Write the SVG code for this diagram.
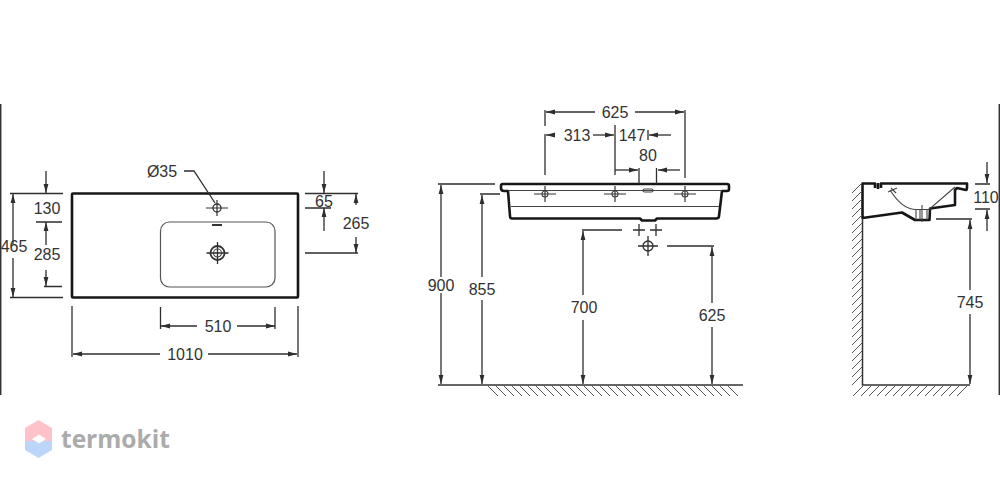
<svg xmlns="http://www.w3.org/2000/svg" width="1000" height="484" viewBox="0 0 1000 484">
<style>
.d{fill:none;stroke:#2e2e2e;stroke-width:1.3}
.a{fill:none;stroke:#2e2e2e;stroke-width:1.3;marker-end:url(#ah)}
.o{fill:none;stroke:#161616;stroke-width:2.6;stroke-linejoin:round}
.t{fill:none;stroke:#444;stroke-width:1.1}
.h{fill:none;stroke:#555;stroke-width:1}
text{font-family:"Liberation Sans",Arial,sans-serif;font-size:16px;fill:#333;text-anchor:middle}
</style>
<defs>
<marker id="ah" markerUnits="userSpaceOnUse" markerWidth="10" markerHeight="7" refX="9" refY="3.500" orient="auto"><path d="M0 1.100L9 3.500L0 5.900Z" fill="#2e2e2e"/></marker>
<path id="tap" d="M-11 0H11M0 -8V8" fill="none" stroke="#333" stroke-width="1.2"/>
</defs>
<path d="M.7 104V395M999.3 104V395" fill="none" stroke="#333" stroke-width="1.5"/>

<g id="plan-view">
<rect x="72" y="193.500" width="226" height="104" rx="1" class="o"/>
<rect x="160.500" y="222" width="114.500" height="65" rx="9" fill="none" stroke="#555" stroke-width="1.2"/>
<g transform="translate(217 208)"><use href="#tap"/><circle r="4" class="d"/></g>
<path d="M212 225H222" stroke="#333" stroke-width="2" fill="none"/>
<g transform="translate(217.500 253)"><path d="M-11 0H11M0 -11V11" class="d"/><circle r="7" fill="none" stroke="#333" stroke-width="1.8"/><circle r="4" class="t"/></g>
</g>

<g id="front-view">
<path d="M503 184H727Q729 184 729 186V189Q729 191 727 191H722L719 216Q719 218.500 716 218.500H657L655 220.500H642L640 218.500H512Q510 218.500 510 216L508 191H504Q501 191 501 188V186Q501 184 503 184Z" class="o"/>
<path d="M508 190.500H722M511 206.500H719" class="t"/>
<rect x="643" y="189" width="10" height="3" rx="1.500" class="t"/>
<g transform="translate(545 194)"><use href="#tap"/><circle r="3" class="t"/></g>
<g transform="translate(615 194)"><use href="#tap"/><circle r="3" class="t"/></g>
<g transform="translate(685 194)"><use href="#tap"/><circle r="3" class="t"/></g>
<path d="M633 230H645M639 224V236M650 230H662M656 224V236M638 246H658M648 236V256" class="d"/>
<circle cx="648" cy="246" r="5" class="d"/>
<path d="M438 385H743" fill="none" stroke="#333" stroke-width="1.5"/>
<path class="h" d="M488 386l10 10m-2-10l10 10m-2-10l10 10m-2-10l10 10m-2-10l10 10m-2-10l10 10m-2-10l10 10m-2-10l10 10m-2-10l10 10m-2-10l10 10m-2-10l10 10m-2-10l10 10m-2-10l10 10m-2-10l10 10m-2-10l10 10m-2-10l10 10m-2-10l10 10m-2-10l10 10m-2-10l10 10m-2-10l10 10m-2-10l10 10m-2-10l10 10m-2-10l10 10m-2-10l10 10m-2-10l10 10m-2-10l10 10m-2-10l10 10m-2-10l10 10m-2-10l10 10m-2-10l10 10m-2-10l10 10"/>
</g>

<g id="side-view">
<path d="M875 188V183.500H862.500V218L902 212.500L915 220H929.500L930 208.500L955 205V190L957 188L966 190Q967 190 967 187V183.500H881V188M878 183V189" class="o"/>
<path d="M890 190Q902 209 915 209.500H929L955 187M916 209.500H930M916 220V209.500M920 209.500V220M927 209.500V220M922 205V222M891 188L896 193M888 192L897 188" class="t"/>
<path d="M862.500 218V385H970" fill="none" stroke="#333" stroke-width="1.5"/>
<path class="h" d="M852 193l10-10m-10 18l10-10m-10 18l10-10m-10 18l10-10m-10 18l10-10m-10 18l10-10m-10 18l10-10m-10 18l10-10m-10 18l10-10m-10 18l10-10m-10 18l10-10m-10 18l10-10m-10 18l10-10m-10 18l10-10m-10 18l10-10m-10 18l10-10m-10 18l10-10m-10 18l10-10m-10 18l10-10m-10 18l10-10m-10 18l10-10m-10 18l10-10m-10 18l10-10m-10 18l10-10m-10 18l10-10"/>
<path class="h" d="M853 396l10-10m-2 10l10-10m-2 10l10-10m-2 10l10-10m-2 10l10-10m-2 10l10-10m-2 10l10-10m-2 10l10-10m-2 10l10-10m-2 10l10-10m-2 10l10-10m-2 10l10-10m-2 10l10-10m-2 10l10-10"/>
</g>

<g id="connectors">
<path class="d" d="M10 193.500H63M10 297.500H63M36 222H62M44 286.500H62M305 193.500H358M305 208H331M305 253H358"/>
<path class="d" d="M160.500 307V329M275 307V329M72 306V357M298 306V357M184 171H194L215 203"/>
<path class="a" d="M46 171V193"/><path class="a" d="M46 245V222"/><path class="a" d="M46 270V286"/>
<path class="a" d="M13 245V194"/><path class="a" d="M13 258V297"/>
<path class="a" d="M324 171V193"/><path class="a" d="M324 231V208"/>
<path class="a" d="M356 205V194"/><path class="a" d="M356 237V253"/>
<path class="a" d="M197 326H161"/><path class="a" d="M237 326H275"/>
<path class="a" d="M160 354H73"/><path class="a" d="M208 354H297"/>
<path class="d" d="M545 110V126M545 134V175M685 110V178M615 125V175M648 130V140M639 168V184M656.500 168V184"/>
<path class="a" d="M595 112H546"/><path class="a" d="M635 112H684"/>
<path class="a" d="M555 135H546"/><path class="a" d="M593 135H614"/><path class="a" d="M671 135H649"/>
<path class="a" d="M615 170H638"/><path class="a" d="M680 170H658"/>
<path class="d" d="M438 184H495M480 194H500M582 230H622M667 246H714"/>
<path class="a" d="M441 277V185"/><path class="a" d="M441 293V384"/>
<path class="a" d="M482 277V195"/><path class="a" d="M482 300V384"/>
<path class="a" d="M583 295V231"/><path class="a" d="M583 320V384"/>
<path class="a" d="M712 303V247"/><path class="a" d="M712 327V384"/>
<path class="d" d="M975 184H990M975 209H990M936 219H972"/>
<path class="a" d="M987 162V183"/><path class="a" d="M987 231V210"/>
<path class="a" d="M970 290V220"/><path class="a" d="M970 314V384"/>
</g>

<g id="labels">
<text x="162" y="177">Ø35</text>
<text x="47" y="214">130</text><text x="47" y="260">285</text><text x="14" y="252">465</text>
<text x="324" y="207">65</text><text x="356" y="229">265</text>
<text x="218" y="332">510</text><text x="185" y="360">1010</text>
<text x="615" y="118">625</text><text x="577" y="141">313</text><text x="632" y="141">147</text><text x="648" y="161">80</text>
<text x="441" y="291">900</text><text x="482" y="295">855</text><text x="584" y="313">700</text><text x="712" y="321">625</text>
<text x="986" y="203">110</text><text x="970" y="308">745</text>
</g>

<g id="watermark">
<path d="M38.500 420L52 428V441H25V428Z" fill="#ffc2ca"/>
<path d="M25 441H52V450L38.500 458L25 450Z" fill="#bcd6fa"/>
<path d="M39 434.500L46 439L39 443.500L32 439Z" fill="#fff"/>
<text x="61" y="448" style="font-family:'Open Sans',sans-serif;font-size:24.500px;font-weight:700;fill:#ababab;text-anchor:start">termokit</text>
</g>
</svg>
